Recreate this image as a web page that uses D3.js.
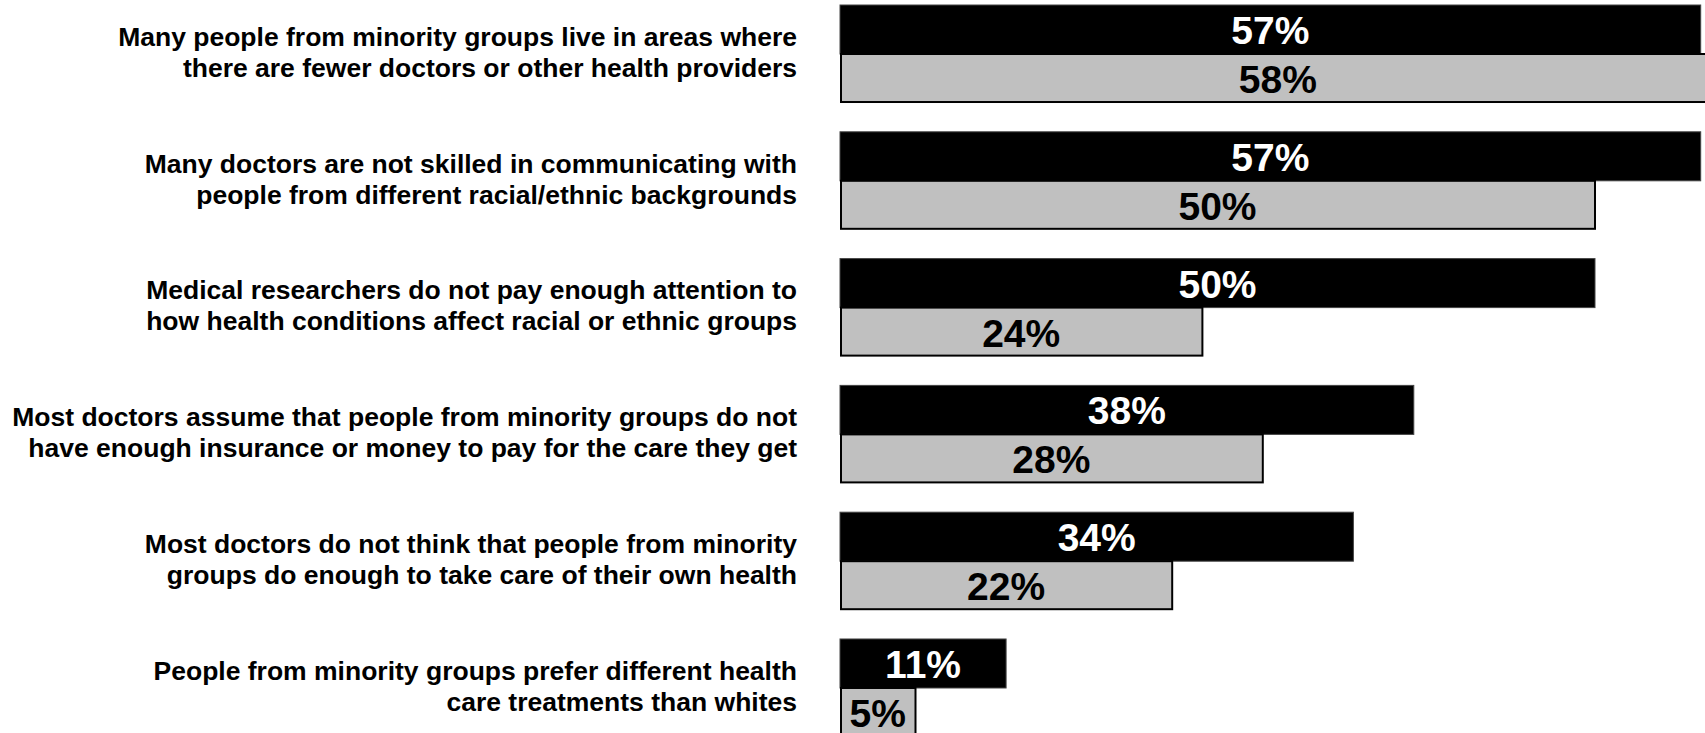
<!DOCTYPE html>
<html>
<head>
<meta charset="utf-8">
<script src="https://cdn.jsdelivr.net/npm/d3@7"></script>
<style>
  html, body { margin: 0; padding: 0; background: #fff; }
  svg { display: block; }
  text { font-family: "Liberation Sans", Arial, sans-serif; font-weight: bold; }
</style>
</head>
<body>
<svg id="chart" width="1705" height="733"></svg>
<script>
// Statements, each split into its two display lines
const categories = [
  ["Many people from minority groups live in areas where", "there are fewer doctors or other health providers"],
  ["Many doctors are not skilled in communicating with", "people from different racial/ethnic backgrounds"],
  ["Medical researchers do not pay enough attention to", "how health conditions affect racial or ethnic groups"],
  ["Most doctors assume that people from minority groups do not", "have enough insurance or money to pay for the care they get"],
  ["Most doctors do not think that people from minority", "groups do enough to take care of their own health"],
  ["People from minority groups prefer different health", "care treatments than whites"]
];
const seriesA = [57, 57, 50, 38, 34, 11]; // black bars
const seriesB = [58, 50, 24, 28, 22, 5];  // gray bars

const svg = d3.select("#chart");

const x = d3.scaleLinear().domain([0, 10]).range([840, 991]);
const ids = categories.map((d, i) => i);
const y = d3.scaleBand().domain(ids).range([5, 737]).paddingInner(0.227).paddingOuter(0);
const sub = d3.scaleBand().domain(["a", "b"]).range([0, y.bandwidth()]);

const groups = svg.selectAll("g.grp").data(ids).join("g")
  .attr("class", "grp")
  .attr("transform", i => `translate(0,${y(i)})`);

// Category labels, right aligned against the bars
groups.append("text")
  .attr("x", 797)
  .attr("y", y.bandwidth() / 2 - 3)
  .attr("text-anchor", "end")
  .attr("font-size", 26.5)
  .attr("fill", "#000")
  .selectAll("tspan").data(i => categories[i]).join("tspan")
  .attr("x", 797)
  .attr("dy", (d, j) => j === 0 ? "-0.2em" : "1.17em")
  .text(d => d);

// Black bars
groups.append("rect")
  .attr("x", x(0))
  .attr("y", sub("a"))
  .attr("width", i => x(seriesA[i]) - x(0))
  .attr("height", sub.bandwidth())
  .attr("fill", "#000")
  .attr("stroke", "#444")
  .attr("stroke-width", 1);

// Gray bars
groups.append("rect")
  .attr("x", x(0) + 1)
  .attr("y", sub("b"))
  .attr("width", i => x(seriesB[i]) - x(0) - 1)
  .attr("height", sub.bandwidth() - 1)
  .attr("fill", "#c0c0c0")
  .attr("stroke", "#000")
  .attr("stroke-width", 2);

// Value labels centred in each bar
groups.append("text")
  .attr("x", i => (x(0) + x(seriesA[i])) / 2)
  .attr("y", sub("a") + sub.bandwidth() / 2 + 1)
  .attr("text-anchor", "middle")
  .attr("dominant-baseline", "central")
  .attr("font-size", 39)
  .attr("fill", "#fff")
  .text(i => seriesA[i] + "%");

groups.append("text")
  .attr("x", i => (x(0) + x(seriesB[i])) / 2)
  .attr("y", sub("b") + sub.bandwidth() / 2 + 1)
  .attr("text-anchor", "middle")
  .attr("dominant-baseline", "central")
  .attr("font-size", 39)
  .attr("fill", "#000")
  .text(i => seriesB[i] + "%");
</script>
</body>
</html>
